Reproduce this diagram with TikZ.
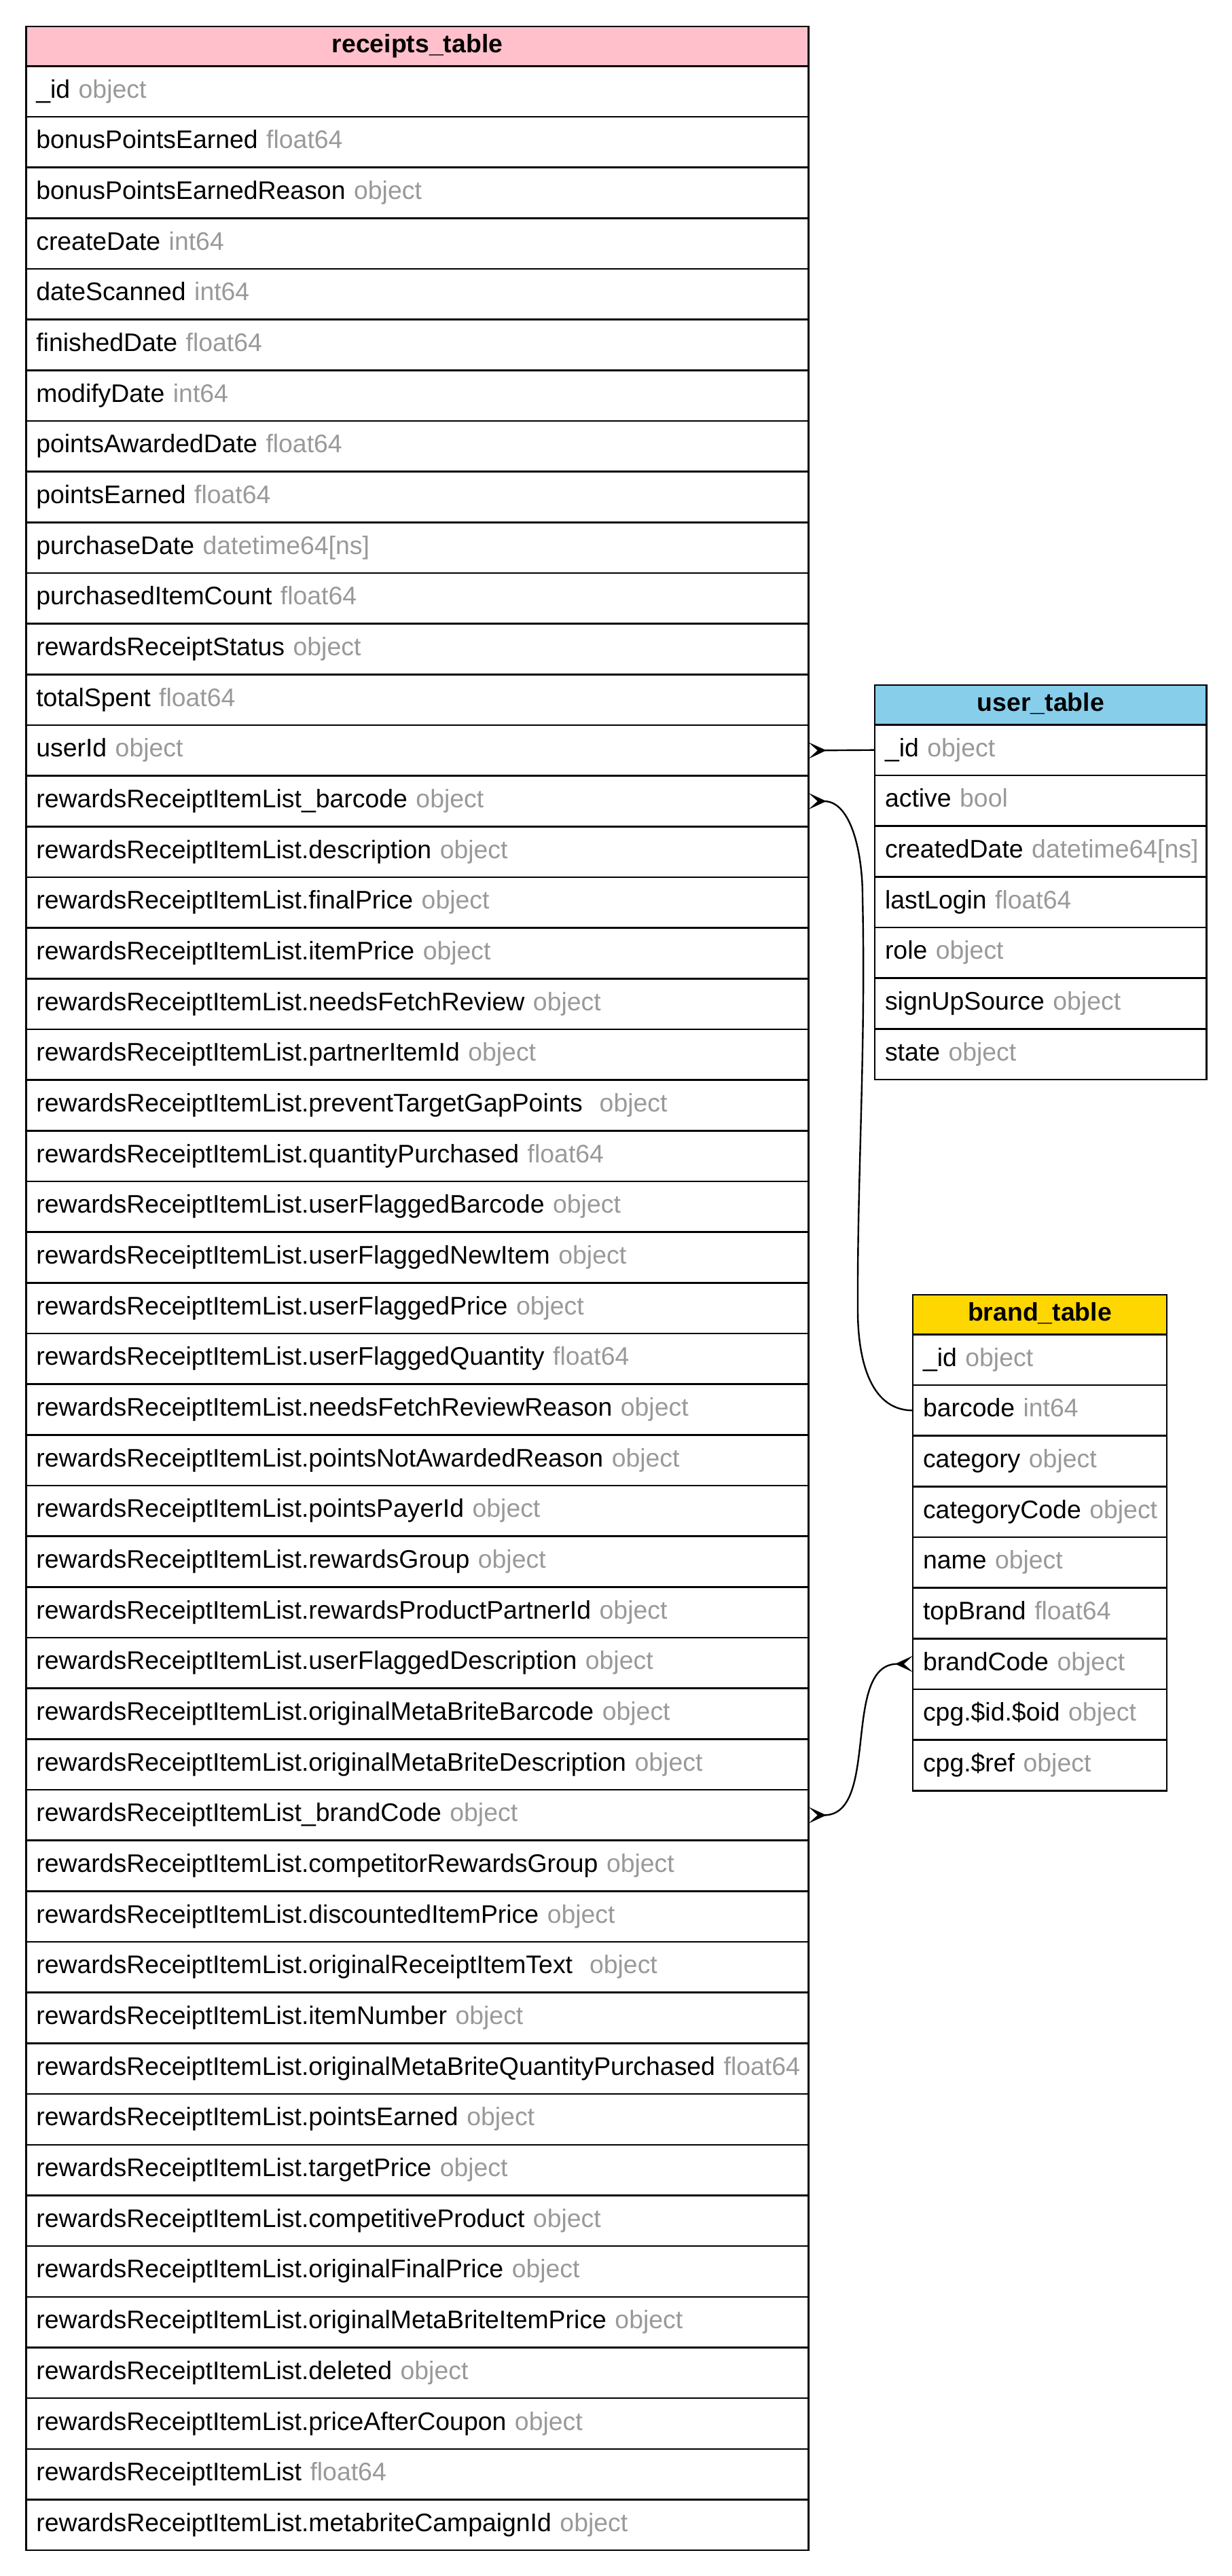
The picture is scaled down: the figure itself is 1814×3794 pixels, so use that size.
\documentclass[tikz,border=0pt]{standalone}
\usepackage{fontspec}
\setmainfont{Liberation Sans}
\usepackage{tikz}
\usetikzlibrary{positioning}
\usetikzlibrary{arrows.meta}
\definecolor{typegray}{HTML}{999999}
\definecolor{receiptspink}{HTML}{FFC0CB}
\definecolor{userblue}{HTML}{87CEEB}
\definecolor{brandgold}{HTML}{FFD700}
\newcommand{\tablefont}{\fontsize{37.4pt}{44pt}\selectfont\hyphenpenalty=10000\exhyphenpenalty=10000}
\newcommand{\dtype}[1]{\mbox{\textcolor{typegray}{#1}}}
\tikzstyle{field} = [draw,line width=2.6pt,outer sep=0pt,inner xsep=15pt,inner ysep=0pt,minimum height=74.67pt,text height=27pt,text depth=8pt,align=left]
\tikzstyle{rfield} = [field,text width=1122.4pt]
\tikzstyle{ufield} = [field,text width=458.7pt]
\tikzstyle{bfield} = [field,text width=344pt]
\tikzstyle{head} = [minimum height=58.3pt,font=\tablefont\bfseries,align=center]
\tikzstyle{link} = [line width=2.4pt]
\tikzstyle{crowend} = [-{Stealth[reversed,length=26pt,width=24pt,inset=13pt]}]
\tikzstyle{crowstart} = [{Stealth[reversed,length=26pt,width=24pt,inset=13pt]}-]
\tikzstyle{crowboth} = [{Stealth[reversed,length=26pt,width=24pt,inset=13pt]}-{Stealth[reversed,length=26pt,width=24pt,inset=13pt]}]

\begin{document}
\begin{tikzpicture}[x=1pt,y=1pt,font=\tablefont]
	\useasboundingbox (0,0) rectangle (1814,-3794);

	%receipts_table
	\node [rfield,head,fill=receiptspink,anchor=north west] (RecHead) at (38.3,-39) {receipts\_table};
	\node [rfield,below=0pt of RecHead] (R1) {\_id~\dtype{object}};
	\node [rfield,below=0pt of R1] (R2) {bonusPointsEarned~\dtype{float64}};
	\node [rfield,below=0pt of R2] (R3) {bonusPointsEarnedReason~\dtype{object}};
	\node [rfield,below=0pt of R3] (R4) {createDate~\dtype{int64}};
	\node [rfield,below=0pt of R4] (R5) {dateScanned~\dtype{int64}};
	\node [rfield,below=0pt of R5] (R6) {finishedDate~\dtype{float64}};
	\node [rfield,below=0pt of R6] (R7) {modifyDate~\dtype{int64}};
	\node [rfield,below=0pt of R7] (R8) {pointsAwardedDate~\dtype{float64}};
	\node [rfield,below=0pt of R8] (R9) {pointsEarned~\dtype{float64}};
	\node [rfield,below=0pt of R9] (R10) {purchaseDate~\dtype{datetime64[ns]}};
	\node [rfield,below=0pt of R10] (R11) {purchasedItemCount~\dtype{float64}};
	\node [rfield,below=0pt of R11] (R12) {rewardsReceiptStatus~\dtype{object}};
	\node [rfield,below=0pt of R12] (R13) {totalSpent~\dtype{float64}};
	\node [rfield,below=0pt of R13] (R14) {userId~\dtype{object}};
	\node [rfield,below=0pt of R14] (R15) {rewardsReceiptItemList\_barcode~\dtype{object}};
	\node [rfield,below=0pt of R15] (R16) {rewardsReceiptItemList.description~\dtype{object}};
	\node [rfield,below=0pt of R16] (R17) {rewardsReceiptItemList.finalPrice~\dtype{object}};
	\node [rfield,below=0pt of R17] (R18) {rewardsReceiptItemList.itemPrice~\dtype{object}};
	\node [rfield,below=0pt of R18] (R19) {rewardsReceiptItemList.needsFetchReview~\dtype{object}};
	\node [rfield,below=0pt of R19] (R20) {rewardsReceiptItemList.partnerItemId~\dtype{object}};
	\node [rfield,below=0pt of R20] (R21) {rewardsReceiptItemList.preventTargetGapPoints~~\dtype{object}};
	\node [rfield,below=0pt of R21] (R22) {rewardsReceiptItemList.quantityPurchased~\dtype{float64}};
	\node [rfield,below=0pt of R22] (R23) {rewardsReceiptItemList.userFlaggedBarcode~\dtype{object}};
	\node [rfield,below=0pt of R23] (R24) {rewardsReceiptItemList.userFlaggedNewItem~\dtype{object}};
	\node [rfield,below=0pt of R24] (R25) {rewardsReceiptItemList.userFlaggedPrice~\dtype{object}};
	\node [rfield,below=0pt of R25] (R26) {rewardsReceiptItemList.userFlaggedQuantity~\dtype{float64}};
	\node [rfield,below=0pt of R26] (R27) {rewardsReceiptItemList.needsFetchReviewReason~\dtype{object}};
	\node [rfield,below=0pt of R27] (R28) {rewardsReceiptItemList.pointsNotAwardedReason~\dtype{object}};
	\node [rfield,below=0pt of R28] (R29) {rewardsReceiptItemList.pointsPayerId~\dtype{object}};
	\node [rfield,below=0pt of R29] (R30) {rewardsReceiptItemList.rewardsGroup~\dtype{object}};
	\node [rfield,below=0pt of R30] (R31) {rewardsReceiptItemList.rewardsProductPartnerId~\dtype{object}};
	\node [rfield,below=0pt of R31] (R32) {rewardsReceiptItemList.userFlaggedDescription~\dtype{object}};
	\node [rfield,below=0pt of R32] (R33) {rewardsReceiptItemList.originalMetaBriteBarcode~\dtype{object}};
	\node [rfield,below=0pt of R33] (R34) {rewardsReceiptItemList.originalMetaBriteDescription~\dtype{object}};
	\node [rfield,below=0pt of R34] (R35) {rewardsReceiptItemList\_brandCode~\dtype{object}};
	\node [rfield,below=0pt of R35] (R36) {rewardsReceiptItemList.competitorRewardsGroup~\dtype{object}};
	\node [rfield,below=0pt of R36] (R37) {rewardsReceiptItemList.discountedItemPrice~\dtype{object}};
	\node [rfield,below=0pt of R37] (R38) {rewardsReceiptItemList.originalReceiptItemText~~\dtype{object}};
	\node [rfield,below=0pt of R38] (R39) {rewardsReceiptItemList.itemNumber~\dtype{object}};
	\node [rfield,below=0pt of R39] (R40) {rewardsReceiptItemList.originalMetaBriteQuantityPurchased~\dtype{float64}};
	\node [rfield,below=0pt of R40] (R41) {rewardsReceiptItemList.pointsEarned~\dtype{object}};
	\node [rfield,below=0pt of R41] (R42) {rewardsReceiptItemList.targetPrice~\dtype{object}};
	\node [rfield,below=0pt of R42] (R43) {rewardsReceiptItemList.competitiveProduct~\dtype{object}};
	\node [rfield,below=0pt of R43] (R44) {rewardsReceiptItemList.originalFinalPrice~\dtype{object}};
	\node [rfield,below=0pt of R44] (R45) {rewardsReceiptItemList.originalMetaBriteItemPrice~\dtype{object}};
	\node [rfield,below=0pt of R45] (R46) {rewardsReceiptItemList.deleted~\dtype{object}};
	\node [rfield,below=0pt of R46] (R47) {rewardsReceiptItemList.priceAfterCoupon~\dtype{object}};
	\node [rfield,below=0pt of R47] (R48) {rewardsReceiptItemList~\dtype{float64}};
	\node [rfield,below=0pt of R48] (R49) {rewardsReceiptItemList.metabriteCampaignId~\dtype{object}};

	%user_table
	\node [ufield,head,fill=userblue,anchor=north west] (UserHead) at (1288,-1009) {user\_table};
	\node [ufield,below=0pt of UserHead] (U1) {\_id~\dtype{object}};
	\node [ufield,below=0pt of U1] (U2) {active~\dtype{bool}};
	\node [ufield,below=0pt of U2] (U3) {createdDate~\dtype{datetime64[ns]}};
	\node [ufield,below=0pt of U3] (U4) {lastLogin~\dtype{float64}};
	\node [ufield,below=0pt of U4] (U5) {role~\dtype{object}};
	\node [ufield,below=0pt of U5] (U6) {signUpSource~\dtype{object}};
	\node [ufield,below=0pt of U6] (U7) {state~\dtype{object}};

	%brand_table
	\node [bfield,head,fill=brandgold,anchor=north west] (BrandHead) at (1344,-1907) {brand\_table};
	\node [bfield,below=0pt of BrandHead] (B1) {\_id~\dtype{object}};
	\node [bfield,below=0pt of B1] (B2) {barcode~\dtype{int64}};
	\node [bfield,below=0pt of B2] (B3) {category~\dtype{object}};
	\node [bfield,below=0pt of B3] (B4) {categoryCode~\dtype{object}};
	\node [bfield,below=0pt of B4] (B5) {name~\dtype{object}};
	\node [bfield,below=0pt of B5] (B6) {topBrand~\dtype{float64}};
	\node [bfield,below=0pt of B6] (B7) {brandCode~\dtype{object}};
	\node [bfield,below=0pt of B7] (B8) {cpg.\$id.\$oid~\dtype{object}};
	\node [bfield,below=0pt of B8] (B9) {cpg.\$ref~\dtype{object}};

	%Links
	\coordinate (bendTop) at (1270,-1320);
	\coordinate (bendLow) at (1263,-1930);
	\draw[link,crowend] (U1.west) -- (R14.east);
	\draw[link,crowstart] (R15.east) to[out=0,in=90] (bendTop) .. controls +(5,-230) and +(-1,200) .. (bendLow) to[out=-90,in=180] (B2.west);
	\draw[link,crowboth] (R35.east) to[out=0,in=180] (B7.west);
\end{tikzpicture}
\end{document}
